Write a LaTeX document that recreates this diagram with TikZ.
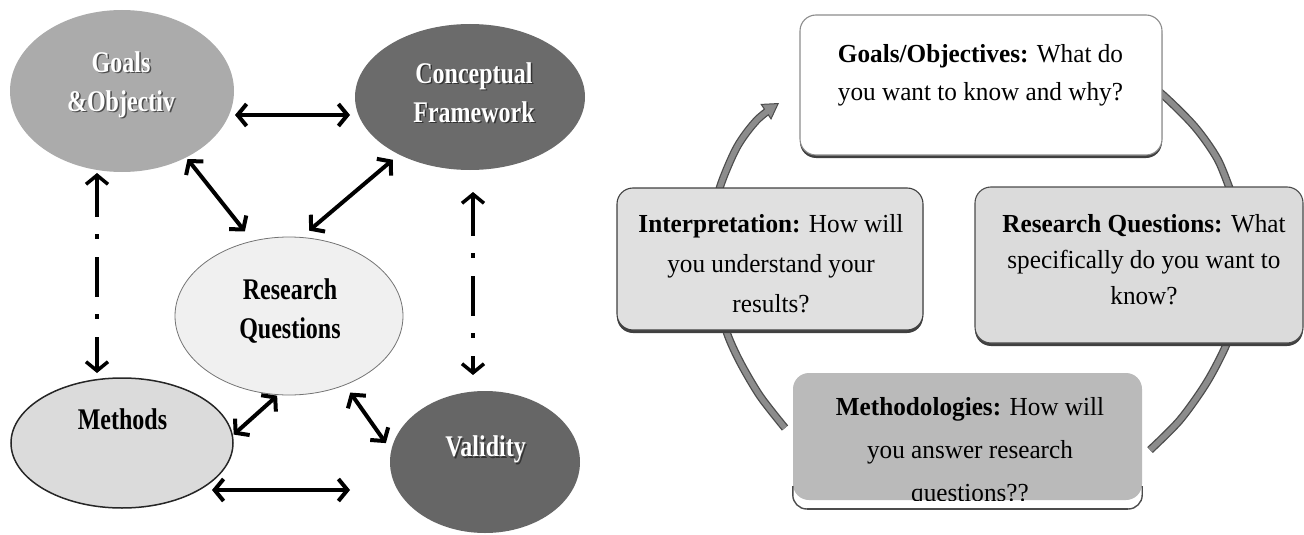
\documentclass[tikz,border=0pt]{standalone}
\usepackage{fontspec}
\setmainfont{Liberation Serif}
\newfontfamily\boxfont[FakeStretch=0.97]{Liberation Serif}
\newfontfamily\ellfont[FakeStretch=0.8]{Liberation Serif}
\usetikzlibrary{arrows.meta,shapes.geometric,shadows,calc}
\begin{document}
\begin{tikzpicture}[x=1pt,y=-1pt,
  ell/.style={ellipse, inner sep=0pt},
  eltext/.style={font=\ellfont\fontsize{30}{39}\selectfont\bfseries, align=center, inner sep=0pt},
  biarrow/.style={line width=4pt, {Straight Barb[length=9pt,width=22pt]}-{Straight Barb[length=9pt,width=22pt]}},
  dashdot/.style={biarrow, line width=3.5pt, dash pattern=on 40pt off 17pt on 5pt off 18pt},
  arcdouble/.style={double=black!45, double distance=5.5pt, line width=1.3pt, draw=black!70},
  box/.style={rectangle, rounded corners=16pt, inner sep=0pt, line width=1.1pt,
    drop shadow={shadow xshift=0pt, shadow yshift=-3pt, fill=black!75, opacity=1}},
  boxtext/.style={font=\boxfont\fontsize{26}{38}\selectfont, align=center, inner sep=0pt}
]
\useasboundingbox (0,0) rectangle (1304,535);

% ---------------- left diagram ----------------
\node[ell, fill=black!33, minimum width=224pt, minimum height=162pt] (goals) at (122,91) {};
\node[ell, fill=black!58, minimum width=230pt, minimum height=146pt] (concept) at (470,97) {};
\node[ell, fill=black!6, draw=black!55, line width=0.8pt, minimum width=228pt, minimum height=158pt] (rq) at (289,316) {};
\node[ell, fill=black!14, draw=black!85, line width=1.5pt, minimum width=222pt, minimum height=130pt] (methods) at (122,443) {};
\node[ell, fill=black!60, minimum width=190pt, minimum height=142pt] (validity) at (485,462) {};

\node[eltext, text=black!70] (goalsS) at (122.5,86.1) {Goals\\\&Objectiv};
\node[eltext, text=white] (goalsT) at (121,84.6) {Goals\\\&Objectiv};
\node[eltext, text=black!80] (conceptS) at (475.5,94.1) {Conceptual\\Framework};
\node[eltext, text=white] (conceptT) at (474,92.6) {Conceptual\\Framework};
\node[eltext] (rqT) at (290,311) {Research\\Questions};
\node[eltext] (methodsT) at (122.5,419.7) {Methods};
\node[eltext, text=black!80] (validityS) at (487,451.1) {Validity};
\node[eltext, text=white] (validityT) at (485.5,449.6) {Validity};

\coordinate (gc1) at ($(goals.center)+(113,24)$);
\coordinate (gc2) at ($(concept.center)+(-120,18)$);
\coordinate (mv1) at ($(methods.center)+(90,47)$);
\coordinate (mv2) at ($(validity.center)+(-135,28)$);
\coordinate (gm1) at ($(goals.center)+(-25,82)$);
\coordinate (gm2) at ($(methods.center)+(-25,-70)$);
\coordinate (cv1) at ($(concept.center)+(3,95)$);
\coordinate (cv2) at ($(validity.center)+(-12,-87)$);

\draw[biarrow] (gc1) -- (gc2);
\draw[biarrow] (mv1) -- (mv2);
\draw[biarrow, shorten <=2pt, shorten >=12pt] (goals.-46) -- (rq.116);
\draw[biarrow, shorten <=8pt, shorten >=10pt] (concept.-141) -- (rq.81);
\draw[biarrow, shorten <=1pt, shorten >=1pt] (rq.-98) -- (methods.4);
\draw[biarrow, shorten <=9pt, shorten >=9pt] (rq.-51) -- (validity.173);
\draw[dashdot] (gm1) -- (gm2);
\draw[dashdot] (cv1) -- (cv2);

% ---------------- right diagram: cycle arcs ----------------
\draw[line width=8pt, draw=black!70,
  -{Triangle[length=16pt,width=19pt,fill=black!45,color=black!70,line width'=1pt]}]
  plot[smooth] coordinates {(714,220) (720,187) (737,147) (757,120) (779,103)};
\draw[line width=5.5pt, draw=black!45, shorten >=14pt]
  plot[smooth] coordinates {(714,220) (720,187) (737,147) (757,120) (779,103)};
\draw[arcdouble] plot[smooth] coordinates {(1140,78) (1163,95) (1195,127) (1218,160) (1233,198)};
\draw[arcdouble] plot[smooth] coordinates {(1232,318) (1227,343) (1207,382) (1180,420) (1150,450)};
\draw[arcdouble] plot[smooth] coordinates {(785,428) (760,396) (740,362) (727,333) (721,305)};

% ---------------- right diagram: boxes ----------------
\node[box, draw=black!45, fill=white, minimum width=362pt, minimum height=140pt] (gbox) at (981,85) {};
\node[box, draw=black!75, fill=black!12, minimum width=306pt, minimum height=142pt] (ibox) at (770,259) {};
\node[box, draw=black!70, fill=black!14, minimum width=328pt, minimum height=156pt] (rbox) at (1139,265) {};

\node[rectangle, rounded corners=16pt, inner sep=0pt, fill=black!27, minimum width=349pt, minimum height=127pt] (mbox) at (967.5,436.5) {};
\draw[black!70, line width=1.4pt, rounded corners=14pt]
  (mbox.west |- 0,486) -- (mbox.west |- 0,509) -- (mbox.east |- 0,509) -- (mbox.east |- 0,486);
\draw[black!70, line width=2.5pt] ($(mbox.south west)+(14,9)$) -- ($(mbox.south east)+(-14,9)$);

\node[boxtext] (gtext) at (980.5,75) {\textbf{Goals/Objectives:} What do\\you want to know and why?};
\node[boxtext, font=\boxfont\fontsize{26}{40}\selectfont] (itext) at (771,263.6) {\textbf{Interpretation:} How will\\you understand your\\results?};
\node[boxtext, font=\boxfont\fontsize{26}{36}\selectfont] (rtext) at (1144,260) {\textbf{Research Questions:} What\\specifically do you want to\\know?};
\begin{scope}
  \clip[rounded corners=16pt] (mbox.south west) rectangle (mbox.north east);
  \node[boxtext, font=\boxfont\fontsize{26}{43}\selectfont] (mtext) at (970,452) {\textbf{Methodologies:} How will\\you answer research\\questions??};
\end{scope}
\end{tikzpicture}
\end{document}
